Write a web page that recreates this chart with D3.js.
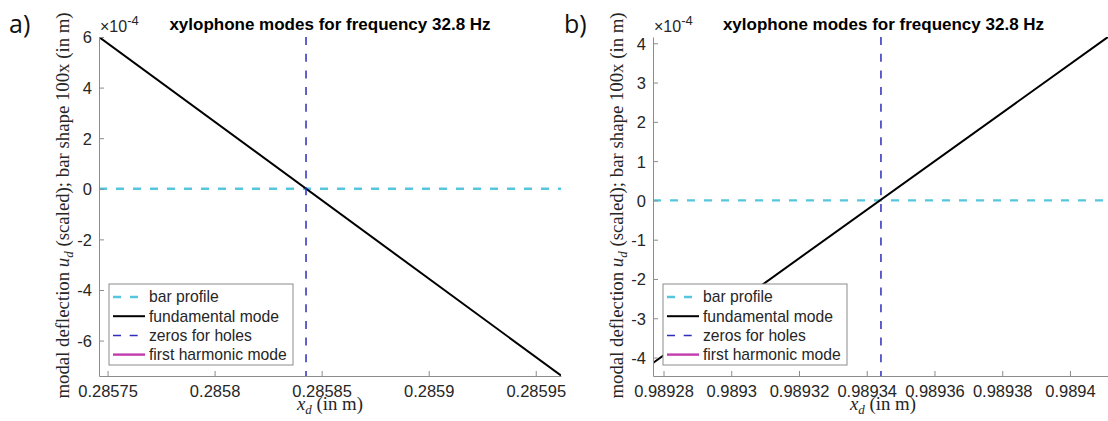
<!DOCTYPE html>
<html>
<head>
<meta charset="utf-8">
<script src="https://cdn.jsdelivr.net/npm/d3@7"></script>
<style>
  html, body { margin: 0; padding: 0; background: #fff; overflow: hidden; }
  svg { display: block; }
</style>
</head>
<body>
<svg id="fig" width="1108" height="421"></svg>
<script>
// Chart text
const titleText = "xylophone modes for frequency 32.8 Hz";
const legendLabels = ["bar profile", "fundamental mode", "zeros for holes", "first harmonic mode"];
const panelLabels = ["a)", "b)"];

// Panel a: near the first node of the fundamental mode
const aXDomain = [0.285746, 0.2859618];
const aYDomain = [-7.4e-4, 6.0e-4];
const aXTicks = [0.28575, 0.2858, 0.28585, 0.2859, 0.28595];
const aXTickLabels = ["0.28575", "0.2858", "0.28585", "0.2859", "0.28595"];
const aYTicks = [-6e-4, -4e-4, -2e-4, 0, 2e-4, 4e-4, 6e-4];
const aYTickLabels = ["-6", "-4", "-2", "0", "2", "4", "6"];
const aModeX = [0.285746, 0.2859618];
const aModeY = [6.0e-4, -7.38e-4];
const aZeroX = 0.2858427;
const aProfileY = 0;

// Panel b: near the second node of the fundamental mode
const bXDomain = [0.9892769, 0.989413];
const bYDomain = [-4.47e-4, 4.16e-4];
const bXTicks = [0.98928, 0.9893, 0.98932, 0.98934, 0.98936, 0.98938, 0.9894];
const bXTickLabels = ["0.98928", "0.9893", "0.98932", "0.98934", "0.98936", "0.98938", "0.9894"];
const bYTicks = [-4e-4, -3e-4, -2e-4, -1e-4, 0, 1e-4, 2e-4, 3e-4, 4e-4];
const bYTickLabels = ["-4", "-3", "-2", "-1", "0", "1", "2", "3", "4"];
const bModeX = [0.9892769, 0.9894112];
const bModeY = [-4.14e-4, 4.16e-4];
const bZeroX = 0.9893442;
const bProfileY = 0;

const colors = {
  profile: "#56c6de",
  mode: "#000000",
  zeros: "#2e2eba",
  harmonic: "#c23cb0",
  axis: "#8c8c8c",
  text: "#262626"
};

const svg = d3.select("#fig");
const defs = svg.append("defs");
const sans = "'Liberation Sans', Arial, Helvetica, sans-serif";
const serif = "'Liberation Serif', 'Times New Roman', serif";

function drawPanel(opt) {
  const { id, left, right, top, bottom, xDomain, yDomain, xTicks, xTickLabels,
          yTicks, yTickLabels, modeX, modeY, zeroX, profileY, panelLabel, panelLabelX } = opt;

  const x = d3.scaleLinear().domain(xDomain).range([left, right]);
  const y = d3.scaleLinear().domain(yDomain).range([bottom, top]);

  defs.append("clipPath").attr("id", "clip-" + id)
    .append("rect").attr("x", left).attr("y", top)
    .attr("width", right - left).attr("height", bottom - top);

  const g = svg.append("g");
  const plot = g.append("g").attr("clip-path", `url(#clip-${id})`);

  // bar profile (flat, scaled)
  plot.append("line")
    .attr("x1", x(xDomain[0])).attr("x2", x(xDomain[1]))
    .attr("y1", y(profileY)).attr("y2", y(profileY))
    .attr("stroke", colors.profile).attr("stroke-width", 2.4)
    .attr("stroke-dasharray", "8,9");

  // fundamental mode
  const line = d3.line().x(d => x(d[0])).y(d => y(d[1]));
  plot.append("path")
    .datum(modeX.map((v, i) => [v, modeY[i]]))
    .attr("d", line)
    .attr("fill", "none").attr("stroke", colors.mode).attr("stroke-width", 2);

  // zero crossing used for the hole position
  plot.append("line")
    .attr("x1", x(zeroX)).attr("x2", x(zeroX))
    .attr("y1", y(yDomain[1])).attr("y2", y(yDomain[0]))
    .attr("stroke", colors.zeros).attr("stroke-width", 1.5)
    .attr("stroke-dasharray", "8,8.7");

  // axes (ticks pointing inward)
  const xAxis = d3.axisBottom(x).tickValues(xTicks)
    .tickFormat((d, i) => xTickLabels[i]).tickSizeInner(-5).tickSizeOuter(0).tickPadding(9);
  const yAxis = d3.axisLeft(y).tickValues(yTicks)
    .tickFormat((d, i) => yTickLabels[i]).tickSizeInner(-5).tickSizeOuter(0).tickPadding(7);

  const gx = g.append("g").attr("transform", `translate(0,${bottom})`).call(xAxis);
  const gy = g.append("g").attr("transform", `translate(${left},0)`).call(yAxis);
  [gx, gy].forEach(a => {
    a.select(".domain").attr("stroke", colors.axis).attr("stroke-width", 1);
    a.selectAll(".tick line").attr("stroke", colors.axis).attr("stroke-width", 1);
    a.selectAll(".tick text").attr("fill", colors.text)
      .style("font-family", sans).style("font-size", "16.5px");
  });
  gx.selectAll(".tick text").attr("dy", "0.71em");
  gy.selectAll(".tick text").attr("dy", "0.36em");

  // exponent marker
  const ex = g.append("text").attr("x", left + 1).attr("y", top - 5)
    .attr("fill", colors.text).style("font-family", sans).style("font-size", "16px");
  ex.append("tspan").text("\u00d710");
  ex.append("tspan").attr("dy", -7).style("font-size", "13px").text("-4");

  // title
  g.append("text").attr("x", (left + right) / 2).attr("y", top - 7.5)
    .attr("text-anchor", "middle").attr("fill", "#000")
    .style("font-family", sans).style("font-weight", "bold").style("font-size", "17px")
    .text(titleText);

  // y label
  const yl = g.append("text")
    .attr("transform", `translate(${left - 30},${(top + bottom) / 2 - 1}) rotate(-90)`)
    .attr("text-anchor", "middle").attr("fill", colors.text)
    .style("font-family", serif).style("font-size", "18.8px");
  yl.append("tspan").text("modal deflection ");
  yl.append("tspan").style("font-style", "italic").text("u");
  yl.append("tspan").attr("dy", 4).style("font-style", "italic").style("font-size", "13px").text("d");
  yl.append("tspan").attr("dy", -4).text(" (scaled); bar shape 100x (in m)");

  // x label
  const xl = g.append("text")
    .attr("x", 330 + (id === "b" ? 553 : 0)).attr("y", bottom + 34)
    .attr("text-anchor", "middle").attr("fill", colors.text)
    .style("font-family", serif).style("font-size", "18.8px");
  xl.append("tspan").style("font-style", "italic").text("x");
  xl.append("tspan").attr("dy", 4).style("font-style", "italic").style("font-size", "13px").text("d");
  xl.append("tspan").attr("dy", -4).text(" (in m)");

  // legend
  const lx = left + 10, ly = 284, lw = 184, lh = 81;
  const lg = g.append("g");
  lg.append("rect").attr("x", lx).attr("y", ly).attr("width", lw).attr("height", lh)
    .attr("fill", "#fff").attr("stroke", colors.axis).attr("stroke-width", 1);
  const styles = [
    { c: colors.profile, w: 2.4, dash: "8,9" },
    { c: colors.mode, w: 2, dash: null },
    { c: colors.zeros, w: 1.5, dash: "8,8.7" },
    { c: colors.harmonic, w: 2.4, dash: null }
  ];
  legendLabels.forEach((lab, i) => {
    const yy = ly + 13 + i * 19.2;
    lg.append("line").attr("x1", lx + 4).attr("x2", lx + 36).attr("y1", yy).attr("y2", yy)
      .attr("stroke", styles[i].c).attr("stroke-width", styles[i].w)
      .attr("stroke-dasharray", styles[i].dash);
    lg.append("text").attr("x", lx + 40).attr("y", yy).attr("dy", "0.35em")
      .attr("fill", colors.text).style("font-family", sans).style("font-size", "15.7px")
      .text(lab);
  });

  // panel label
  svg.append("text").attr("x", panelLabelX).attr("y", 33)
    .attr("fill", "#111").style("font-family", "'Open Sans', sans-serif")
    .style("font-size", "25px").text(panelLabel);
}

drawPanel({
  id: "a", left: 99, right: 561, top: 37, bottom: 376,
  xDomain: aXDomain, yDomain: aYDomain, xTicks: aXTicks, xTickLabels: aXTickLabels,
  yTicks: aYTicks, yTickLabels: aYTickLabels, modeX: aModeX, modeY: aModeY,
  zeroX: aZeroX, profileY: aProfileY, panelLabel: panelLabels[0], panelLabelX: 9
});

drawPanel({
  id: "b", left: 653, right: 1114, top: 37, bottom: 376,
  xDomain: bXDomain, yDomain: bYDomain, xTicks: bXTicks, xTickLabels: bXTickLabels,
  yTicks: bYTicks, yTickLabels: bYTickLabels, modeX: bModeX, modeY: bModeY,
  zeroX: bZeroX, profileY: bProfileY, panelLabel: panelLabels[1], panelLabelX: 564
});
</script>
</body>
</html>
